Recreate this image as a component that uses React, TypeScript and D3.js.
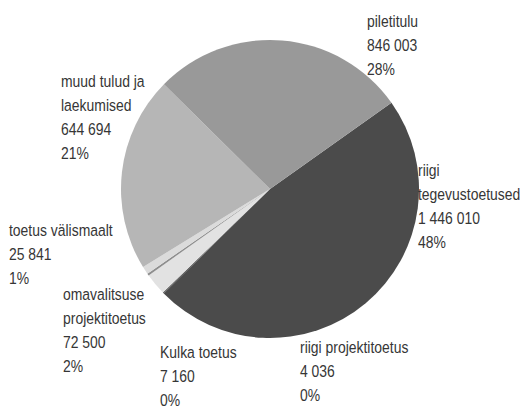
import React from "react";
import * as d3 from "d3";

const categories = [
  "riigi tegevustoetused",
  "riigi projektitoetus",
  "omavalitsuse projektitoetus",
  "Kulka toetus",
  "toetus välismaalt",
  "muud tulud ja laekumised",
  "piletitulu",
];
const values = [1446010, 4036, 72500, 7160, 25841, 644694, 846003];
const valueLabels = ["1 446 010", "4 036", "72 500", "7 160", "25 841", "644 694", "846 003"];
const percentLabels = ["48%", "0%", "2%", "0%", "1%", "21%", "28%"];
const nameLines = [
  ["riigi", "tegevustoetused"],
  ["riigi projektitoetus"],
  ["omavalitsuse", "projektitoetus"],
  ["Kulka toetus"],
  ["toetus välismaalt"],
  ["muud tulud ja", "laekumised"],
  ["piletitulu"],
];

const colors = ["#4b4b4b", "#555555", "#e2e2e2", "#8e8e8e", "#dbdbdb", "#b6b6b6", "#999999"];
// label anchor (left x, first baseline y)
const labelPos: [number, number][] = [
  [418, 176],
  [300, 353],
  [63, 300],
  [160, 358],
  [9, 236],
  [61, 87],
  [367, 27],
];

const W = 532;
const H = 408;
const cx = 270;
const cy = 189;
const R = 149;
const lineH = 24;
const startDeg = 54.6;
const squeeze = 0.82;

export default function App() {
  const pie = d3
    .pie<number>()
    .sort(null)
    .value((d) => d)
    .startAngle((startDeg * Math.PI) / 180)
    .endAngle((startDeg * Math.PI) / 180 + 2 * Math.PI);
  const arcs = pie(values);
  const arcGen = d3.arc<d3.PieArcDatum<number>>().innerRadius(0).outerRadius(R);

  return (
    <svg
      width={W}
      height={H}
      style={{ position: "absolute", left: 0, top: 0, background: "#fff" }}
      fontFamily="'Liberation Sans', Arial, sans-serif"
    >
      <rect width={W} height={H} fill="#fff" />
      <g transform={`translate(${cx},${cy})`}>
        {arcs.map((a, i) => (
          <path key={categories[i]} d={arcGen(a) || ""} fill={colors[i]} />
        ))}
      </g>
      {categories.map((c, i) => {
        const lines = [...nameLines[i], valueLabels[i], percentLabels[i]];
        const [x, y] = labelPos[i];
        return (
          <g key={c} transform={`translate(${x},${y}) scale(${squeeze},1)`}>
            <text fontSize={17} fill="#363636">
              {lines.map((l, j) => (
                <tspan key={j} x={0} y={j * lineH}>
                  {l}
                </tspan>
              ))}
            </text>
          </g>
        );
      })}
    </svg>
  );
}
